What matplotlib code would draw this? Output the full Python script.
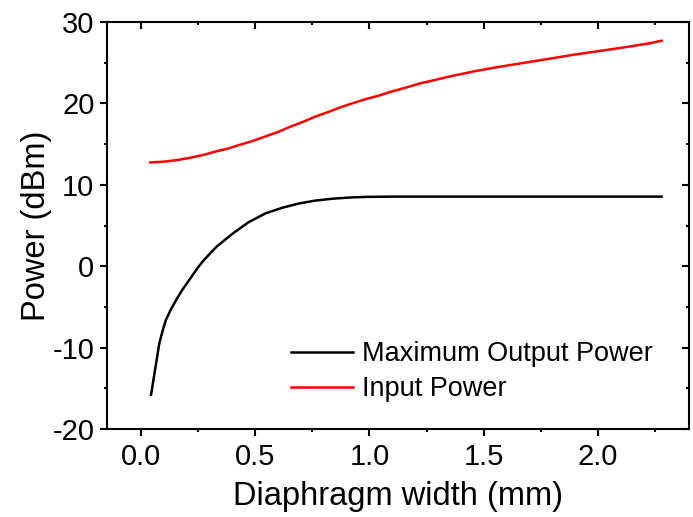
"""
Diaphragm width vs power chart.
"""
import matplotlib
matplotlib.use("Agg")
import matplotlib.pyplot as plt
from matplotlib.ticker import MultipleLocator, FormatStrFormatter

plt.rcParams["font.family"] = ["Liberation Sans", "DejaVu Sans"]
plt.rcParams["axes.unicode_minus"] = False

# ── Data ──────────────────────────────────────────────────────────────────
width_out = [0.043, 0.079, 0.095, 0.108, 0.13, 0.152, 0.18, 0.21, 0.25,
             0.276, 0.33, 0.40, 0.47, 0.545, 0.62, 0.69, 0.76, 0.84,
             0.92, 0.99, 1.10, 1.30, 1.60, 2.00, 2.28]
max_output = [-15.8, -9.5, -7.8, -6.6, -5.3, -4.2, -2.9, -1.7, -0.1,
              0.8, 2.4, 4.0, 5.4, 6.5, 7.2, 7.7, 8.05, 8.3,
              8.45, 8.52, 8.55, 8.55, 8.55, 8.55, 8.55]

width_in = [0.04, 0.10, 0.16, 0.21, 0.27, 0.32, 0.38, 0.43, 0.49, 0.54,
            0.60, 0.65, 0.71, 0.76, 0.82, 0.87, 0.93, 0.98, 1.04, 1.09,
            1.16, 1.22, 1.29, 1.35, 1.46, 1.57, 1.68, 1.79, 1.90, 2.01,
            2.12, 2.23, 2.28]
input_power = [12.75, 12.85, 13.05, 13.3, 13.65, 14.05, 14.45, 14.9, 15.4, 15.9,
               16.5, 17.1, 17.75, 18.35, 18.95, 19.5, 20.05, 20.5, 20.95, 21.4,
               21.95, 22.45, 22.9, 23.3, 23.95, 24.5, 25.0, 25.5, 26.0, 26.45,
               26.9, 27.4, 27.7]

fig = plt.figure(figsize=(6.93, 5.17), dpi=100)
ax = fig.add_axes([0.1544, 0.1702, 0.8398, 0.7872])

ax.plot(width_out, max_output, color="black", lw=1.8, label="Maximum Output Power")
ax.plot(width_in, input_power, color="red", lw=1.8, label="Input Power")

ax.set_xlim(-0.15, 2.4)
ax.set_ylim(-20, 30)
ax.xaxis.set_major_locator(MultipleLocator(0.5))
ax.xaxis.set_minor_locator(MultipleLocator(0.25))
ax.yaxis.set_major_locator(MultipleLocator(10))
ax.yaxis.set_minor_locator(MultipleLocator(5))
ax.xaxis.set_major_formatter(FormatStrFormatter("%.1f"))

for s in ax.spines.values():
    s.set_linewidth(1.5)

ax.tick_params(which="both", direction="out", top=True, right=True,
               width=1.5, labelsize=21, pad=4)
ax.tick_params(axis="x", which="both", pad=5)
ax.tick_params(which="major", length=5)
ax.tick_params(which="minor", length=2.5)

ax.set_xlabel("Diaphragm width (mm)", fontsize=23.5, labelpad=7)
ax.set_ylabel("Power (dBm)", fontsize=23.5, labelpad=0)

ax.legend(loc="upper left", bbox_to_anchor=(0.316, 0.216), frameon=False,
          fontsize=19.5, handlelength=2.3, handletextpad=0.33,
          labelspacing=0.34, borderpad=0, borderaxespad=0)


def inward_top_right():
    # top and right ticks point into the plot, bottom/left point out
    for t in ax.xaxis.get_major_ticks() + ax.xaxis.get_minor_ticks():
        t.tick2line.set_marker(3)
    for t in ax.yaxis.get_major_ticks() + ax.yaxis.get_minor_ticks():
        t.tick2line.set_marker(0)


fig.canvas.draw()
inward_top_right()
fig.savefig("out.png", dpi=100)
